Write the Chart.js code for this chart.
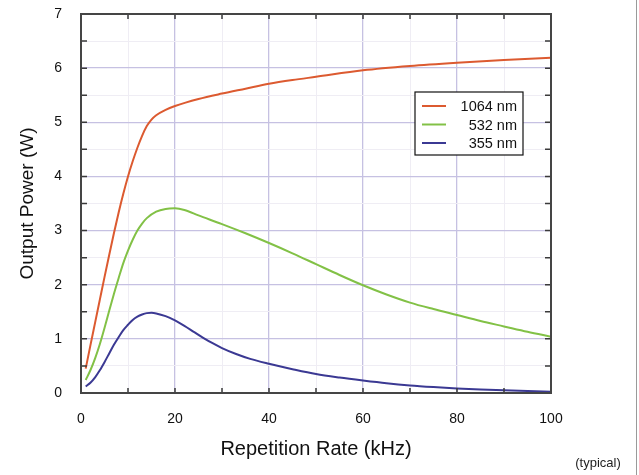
<!DOCTYPE html>
<html>
<head>
<meta charset="utf-8">
<script src="https://cdn.jsdelivr.net/npm/chart.js@4/dist/chart.umd.min.js"></script>
<style>
html,body{margin:0;padding:0;background:#fff;}
#wrap{position:relative;width:639px;height:475px;}
</style>
</head>
<body>
<div id="wrap"><canvas id="c" width="639" height="475"></canvas></div>
<script>
// ---- data ----
const seriesLabels = ['1064 nm', '532 nm', '355 nm'];
const seriesColors = ['#dc5a30', '#82c146', '#3b3993'];

const redX   = [1,2,3,4,5,6,7,8,9,10,11,12,13,14,15,16,18,20,25,30,35,40,45,50,60,70,80,90,100];
const redY   = [0.45,0.88,1.3,1.72,2.14,2.55,2.95,3.33,3.68,4.0,4.28,4.53,4.75,4.93,5.05,5.13,5.23,5.3,5.43,5.53,5.62,5.71,5.78,5.84,5.96,6.04,6.1,6.15,6.19];

const greenX = [1,2,3,4,5,6,7,8,9,10,11,12,13,14,16,18,20,22,25,30,35,40,45,50,55,60,65,70,75,80,85,90,95,100];
const greenY = [0.24,0.42,0.64,0.9,1.2,1.52,1.83,2.12,2.4,2.63,2.83,3.0,3.13,3.23,3.35,3.4,3.41,3.38,3.28,3.12,2.95,2.77,2.58,2.38,2.18,1.99,1.82,1.67,1.55,1.44,1.33,1.23,1.13,1.04];

const blueX  = [1,2,3,4,5,6,7,8,9,10,11,12,13,14,15,16,18,20,22,24,26,28,30,33,36,40,45,50,55,60,65,70,75,80,85,90,95,100];
const blueY  = [0.12,0.19,0.29,0.42,0.57,0.73,0.89,1.03,1.16,1.26,1.35,1.41,1.45,1.475,1.48,1.47,1.42,1.34,1.24,1.13,1.02,0.92,0.83,0.72,0.63,0.54,0.44,0.35,0.285,0.23,0.18,0.14,0.11,0.085,0.065,0.05,0.035,0.025];

const xTickLabels = [0,20,40,60,80,100];
const yTickLabels = [0,1,2,3,4,5,6,7];

const xTitle = 'Repetition Rate (kHz)';
const yTitle = 'Output Power (W)';
const noteText = '(typical)';

function pts(xs, ys){ return xs.map((x,i)=>({x:x, y:ys[i]})); }

const FONT = "'Liberation Sans', Arial, Helvetica, sans-serif";

const framePlugin = {
  id: 'frame',
  afterDatasetsDraw(chart){
    const {ctx, chartArea:a, scales:{x, y}} = chart;
    ctx.save();
    // tick marks (inward)
    ctx.strokeStyle = '#3a3a3a';
    ctx.lineWidth = 1.5;
    ctx.beginPath();
    for (let v = 10; v < 100; v += 10) {
      const px = x.getPixelForValue(v);
      ctx.moveTo(px, a.top); ctx.lineTo(px, a.top + 5);
      ctx.moveTo(px, a.bottom); ctx.lineTo(px, a.bottom - 5);
    }
    for (let v = 0.5; v < 7; v += 0.5) {
      const py = y.getPixelForValue(v);
      ctx.moveTo(a.left, py); ctx.lineTo(a.left + 6, py);
      ctx.moveTo(a.right, py); ctx.lineTo(a.right - 6, py);
    }
    ctx.stroke();
    // frame
    ctx.strokeStyle = '#454545';
    ctx.lineWidth = 2;
    ctx.strokeRect(a.left, a.top, a.right - a.left, a.bottom - a.top);
    // legend box
    const lx = 415, ly = 92, lw = 108, lh = 63;
    ctx.fillStyle = '#fff';
    ctx.fillRect(lx, ly, lw, lh);
    ctx.strokeStyle = '#111';
    ctx.lineWidth = 1.2;
    ctx.strokeRect(lx, ly, lw, lh);
    ctx.font = '14.5px ' + FONT;
    ctx.textAlign = 'right';
    ctx.textBaseline = 'middle';
    chart.data.datasets.forEach((ds, i) => {
      const ry = ly + 14 + i * 18.5;
      ctx.strokeStyle = ds.borderColor;
      ctx.lineWidth = 2;
      ctx.beginPath();
      ctx.moveTo(lx + 7, ry); ctx.lineTo(lx + 31, ry);
      ctx.stroke();
      ctx.fillStyle = '#111';
      ctx.fillText(ds.label, lx + lw - 6, ry + 1);
    });
    // note and right border line
    ctx.font = '13px ' + FONT;
    ctx.textAlign = 'center';
    ctx.fillStyle = '#222';
    ctx.fillText(noteText, 598, 463);
    ctx.strokeStyle = '#9a9a9a';
    ctx.lineWidth = 1;
    ctx.beginPath();
    ctx.moveTo(636.5, 0); ctx.lineTo(636.5, 475);
    ctx.stroke();
    ctx.restore();
  }
};

new Chart(document.getElementById('c'), {
  type: 'line',
  data: {
    datasets: [
      {label: seriesLabels[0], data: pts(redX, redY), borderColor: seriesColors[0]},
      {label: seriesLabels[1], data: pts(greenX, greenY), borderColor: seriesColors[1]},
      {label: seriesLabels[2], data: pts(blueX, blueY), borderColor: seriesColors[2]}
    ].map(d => Object.assign(d, {borderWidth: 2, pointRadius: 0, fill: false, cubicInterpolationMode: 'monotone'}))
  },
  options: {
    responsive: false,
    animation: false,
    devicePixelRatio: 1,
    layout: {padding: {left: 0, right: 88, top: 14, bottom: 0}},
    plugins: {legend: {display: false}, tooltip: {enabled: false}},
    scales: {
      x: {
        type: 'linear', min: 0, max: 100,
        afterFit(s){ s.height = 82; s.paddingLeft = 0; s.paddingRight = 0; },
        afterBuildTicks(s){ s.ticks = []; for (let v = 0; v <= 100; v += 10) s.ticks.push({value: v}); },
        ticks: {
          autoSkip: false, maxRotation: 0, padding: 18, color: '#111',
          font: {family: FONT, size: 14},
          callback: v => xTickLabels.includes(v) ? String(v) : ''
        },
        grid: {
          drawTicks: false,
          color: c => (c.tick && c.tick.value % 20 === 0) ? '#c6c1e2' : '#efedf4',
          lineWidth: c => (c.tick && c.tick.value % 20 === 0) ? 1.3 : 1
        },
        border: {display: false},
        title: {display: true, text: xTitle, color: '#111', font: {family: FONT, size: 20}, padding: {top: 0, bottom: 14}}
      },
      y: {
        type: 'linear', min: 0, max: 7,
        afterFit(s){ s.width = 81; s.paddingTop = 0; s.paddingBottom = 0; },
        afterBuildTicks(s){ s.ticks = []; for (let v = 0; v <= 7.001; v += 0.5) s.ticks.push({value: Math.round(v*2)/2}); },
        ticks: {
          autoSkip: false, padding: 19, color: '#111',
          font: {family: FONT, size: 14},
          callback: v => yTickLabels.includes(v) ? String(v) : ''
        },
        grid: {
          drawTicks: false,
          color: c => (c.tick && Number.isInteger(c.tick.value)) ? '#c6c1e2' : '#efedf4',
          lineWidth: c => (c.tick && Number.isInteger(c.tick.value)) ? 1.3 : 1
        },
        border: {display: false},
        title: {display: true, text: yTitle, color: '#111', font: {family: FONT, size: 19}, padding: {top: 16, bottom: 0}}
      }
    }
  },
  plugins: [framePlugin]
});
</script>
</body>
</html>
